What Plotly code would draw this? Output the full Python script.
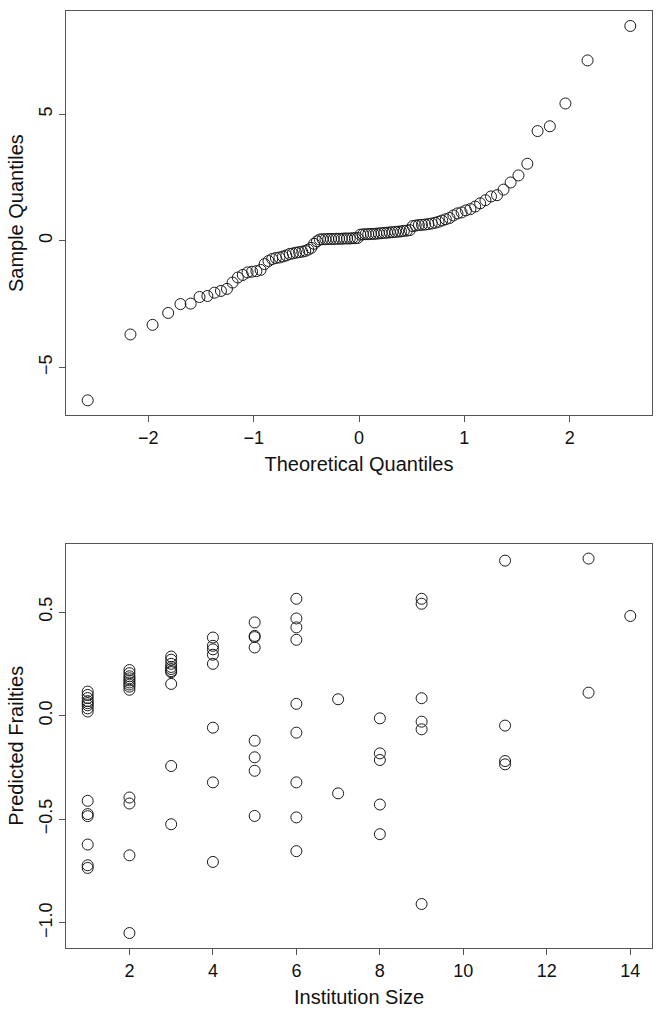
import plotly.graph_objects as go
from plotly.subplots import make_subplots
from statistics import NormalDist

# ---- Top panel: sorted sample quantiles ----
sample_quantiles = [
    -6.30, -3.70, -3.32, -2.85, -2.50, -2.48, -2.22, -2.18, -2.05, -1.98,
    -1.90, -1.65, -1.45, -1.35, -1.25, -1.22, -1.20, -1.15, -0.92, -0.80,
    -0.72, -0.68, -0.66, -0.62, -0.58, -0.52, -0.50, -0.47, -0.45, -0.43,
    -0.40, -0.35, -0.28, -0.12, -0.02, 0.05,
    0.06, 0.06, 0.07, 0.07, 0.07, 0.08, 0.08, 0.08, 0.09, 0.09, 0.09, 0.10, 0.10, 0.11,
    0.24, 0.25, 0.26, 0.26, 0.27, 0.27, 0.28, 0.29, 0.30, 0.31, 0.32, 0.33, 0.34, 0.35,
    0.36, 0.37, 0.39, 0.40, 0.42,
    0.58, 0.60, 0.62, 0.63, 0.64, 0.66, 0.68, 0.71, 0.75,
    0.80, 0.85, 0.90, 1.00, 1.08, 1.12, 1.20, 1.25, 1.35, 1.48, 1.60, 1.75,
    1.80, 2.02, 2.30, 2.58, 3.04, 4.33, 4.52, 5.42, 7.12, 8.48,
]
n = len(sample_quantiles)
nd = NormalDist()
theoretical_quantiles = [nd.inv_cdf((i + 0.5) / n) for i in range(n)]

# ---- Bottom panel: institution size vs predicted frailty ----
inst_size = (
    [1] * 14 + [2] * 13 + [3] * 10 + [4] * 8 + [5] * 8 + [6] * 9 + [7] * 2
    + [8] * 5 + [9] * 6 + [11] * 4 + [13] * 2 + [14] * 1
)
frailty = [
    # size 1
    0.116, 0.10, 0.085, 0.07, 0.06, 0.05, 0.035, 0.02,
    -0.411, -0.475, -0.485, -0.622, -0.722, -0.735,
    # size 2
    0.22, 0.205, 0.19, 0.18, 0.17, 0.16, 0.15, 0.14, 0.125,
    -0.395, -0.424, -0.674, -1.049,
    # size 3
    0.285, 0.27, 0.25, 0.235, 0.225, 0.215, 0.21, 0.153,
    -0.243, -0.524,
    # size 4
    0.377, 0.337, 0.32, 0.294, 0.25, -0.058, -0.322, -0.706,
    # size 5
    0.45, 0.385, 0.379, 0.329, -0.121, -0.201, -0.266, -0.484,
    # size 6
    0.564, 0.469, 0.426, 0.366, 0.057, -0.082, -0.322, -0.491, -0.654,
    # size 7
    0.079, -0.375,
    # size 8
    -0.013, -0.182, -0.214, -0.429, -0.572,
    # size 9
    0.564, 0.540, 0.084, -0.029, -0.066, -0.909,
    # size 11
    0.748, -0.048, -0.219, -0.235,
    # size 13
    0.758, 0.111,
    # size 14
    0.481,
]

top_xticks = [-2, -1, 0, 1, 2]
top_yticks = [-5, 0, 5]
bot_xticks = [2, 4, 6, 8, 10, 12, 14]
bot_yticks = [-1.0, -0.5, 0.0, 0.5]


def r_range(vals):
    lo, hi = min(vals), max(vals)
    pad = (hi - lo) * 0.04
    return [lo - pad, hi + pad]


fig = make_subplots(rows=2, cols=1, vertical_spacing=0.1)

marker = dict(symbol="circle-open", size=11, color="#1a1a1a", line=dict(width=1))
fig.add_trace(go.Scatter(x=theoretical_quantiles, y=sample_quantiles, mode="markers",
                         marker=marker, showlegend=False, cliponaxis=False), row=1, col=1)
fig.add_trace(go.Scatter(x=inst_size, y=frailty, mode="markers",
                         marker=marker, showlegend=False, cliponaxis=False), row=2, col=1)

font = dict(family="Liberation Sans, Arial, Helvetica, sans-serif", size=17, color="#111")
axis_common = dict(showgrid=False, zeroline=False, showline=True, mirror=True,
                   linecolor="#555", linewidth=1, ticks="outside", ticklen=6,
                   tickcolor="#555", tickwidth=1, tickfont=dict(size=18, color="#111"),
                   automargin=False)

fig.update_xaxes(axis_common, row=1, col=1, range=r_range(theoretical_quantiles),
                 tickvals=top_xticks, domain=[0, 1],
                 title=dict(text="Theoretical Quantiles", standoff=10))
fig.update_yaxes(axis_common, row=1, col=1, range=r_range(sample_quantiles),
                 tickvals=top_yticks, tickangle=-90, domain=[0.5685, 1.0],
                 title=dict(text="Sample Quantiles", standoff=6))
fig.update_xaxes(axis_common, row=2, col=1, range=r_range(inst_size),
                 tickvals=bot_xticks, domain=[0, 1],
                 title=dict(text="Institution Size", standoff=10))
fig.update_yaxes(axis_common, row=2, col=1, range=r_range(frailty),
                 tickvals=bot_yticks, tickformat=".1f", tickangle=-90, domain=[0.0, 0.4316],
                 title=dict(text="Predicted Frailties", standoff=6))

fig.update_layout(
    width=663, height=1011,
    margin=dict(l=66, r=11, t=11, b=63, autoexpand=False),
    paper_bgcolor="white", plot_bgcolor="white",
    font=font,
    showlegend=False,
)

fig.write_html("out.html", config={"displayModeBar": False},
               post_script="document.body.style.margin='0';document.body.style.overflow='hidden';")
